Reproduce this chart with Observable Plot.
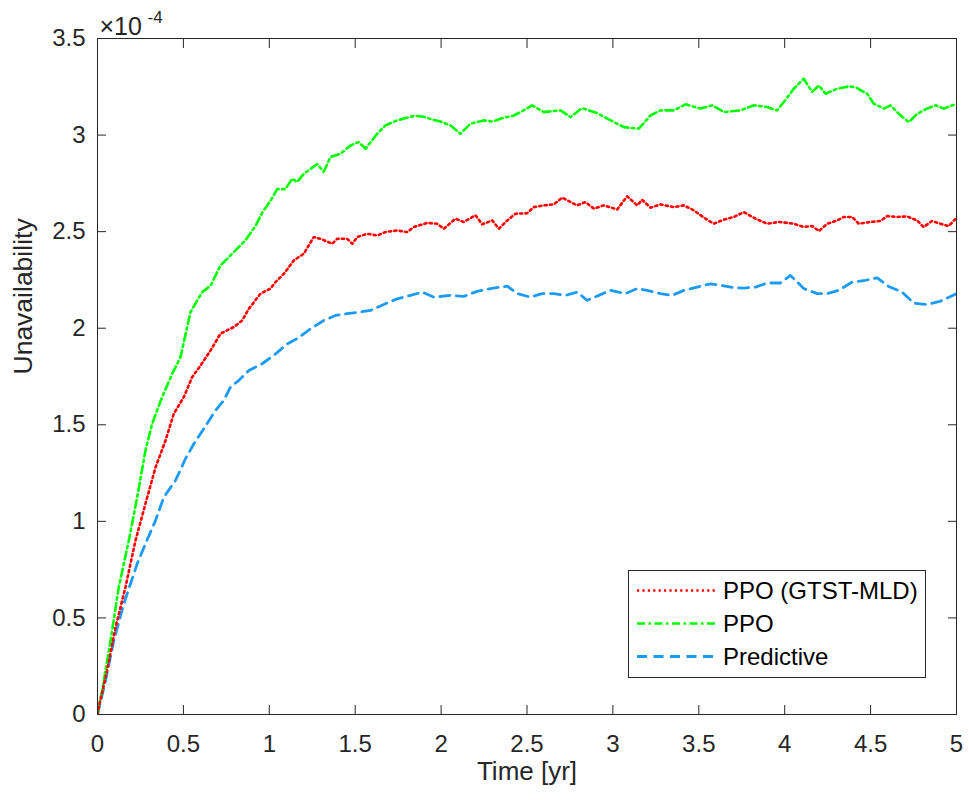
<!DOCTYPE html>
<html>
<head>
<meta charset="utf-8">
<script src="https://cdn.jsdelivr.net/npm/d3@7"></script>
<script src="https://cdn.jsdelivr.net/npm/@observablehq/plot@0.6"></script>
<style>
  body { margin: 0; background: #fff; }
  #wrap { position: relative; width: 969px; height: 800px; font-family: "Liberation Sans", Arial, sans-serif; }
  #legend { position: absolute; left: 628px; top: 570px; }
</style>
</head>
<body>
<div id="wrap"></div>
<script>
// Unavailability values in units of 1e-4
const seriesNames = ["PPO (GTST-MLD)", "PPO", "Predictive"];
const seriesColors = ["#ff0000", "#00ff00", "#1c9bf2"];

const redT = [0,0.008,0.056,0.105,0.163,0.221,0.279,0.338,0.396,0.444,0.502,0.551,0.6,0.658,0.716,0.793,0.842,0.881,0.949,1.007,1.036,1.085,1.143,1.201,1.259,1.298,1.366,1.395,1.453,1.483,1.512,1.57,1.628,1.676,1.744,1.803,1.841,1.919,1.977,2.016,2.084,2.132,2.2,2.239,2.298,2.336,2.385,2.433,2.5,2.54,2.598,2.656,2.705,2.792,2.84,2.889,2.947,3.025,3.083,3.141,3.17,3.219,3.277,3.355,3.413,3.471,3.539,3.587,3.646,3.704,3.762,3.83,3.898,3.966,4.053,4.111,4.16,4.199,4.248,4.305,4.344,4.393,4.431,4.499,4.557,4.596,4.654,4.712,4.771,4.808,4.858,4.916,4.955,5.0];
const redV = [0,0.04,0.228,0.452,0.66,0.9,1.091,1.28,1.419,1.557,1.643,1.747,1.807,1.885,1.972,2.006,2.04,2.101,2.179,2.205,2.239,2.282,2.351,2.386,2.472,2.463,2.437,2.463,2.463,2.437,2.472,2.489,2.48,2.498,2.506,2.498,2.524,2.545,2.541,2.515,2.567,2.55,2.585,2.538,2.558,2.515,2.558,2.593,2.595,2.627,2.636,2.641,2.676,2.636,2.653,2.619,2.636,2.615,2.683,2.636,2.665,2.624,2.641,2.627,2.636,2.61,2.567,2.541,2.562,2.576,2.601,2.567,2.541,2.55,2.541,2.524,2.529,2.503,2.541,2.558,2.576,2.576,2.541,2.55,2.555,2.581,2.576,2.579,2.558,2.524,2.555,2.538,2.529,2.572];

const greenT = [0,0.027,0.076,0.124,0.182,0.231,0.279,0.318,0.376,0.435,0.483,0.541,0.609,0.658,0.716,0.784,0.861,0.92,0.96,1.007,1.046,1.094,1.133,1.162,1.201,1.279,1.317,1.356,1.414,1.473,1.521,1.56,1.628,1.676,1.744,1.8,1.85,1.9,1.95,1.997,2.055,2.113,2.171,2.249,2.3,2.365,2.42,2.462,2.53,2.598,2.695,2.753,2.821,2.908,2.967,3.064,3.151,3.219,3.277,3.355,3.423,3.51,3.578,3.646,3.743,3.82,3.898,3.956,3.995,4.053,4.111,4.16,4.199,4.238,4.305,4.373,4.412,4.48,4.519,4.577,4.616,4.674,4.723,4.771,4.829,4.878,4.926,5.0];
const greenV = [0,0.124,0.383,0.66,0.9,1.125,1.367,1.505,1.643,1.764,1.85,2.083,2.187,2.22,2.325,2.386,2.455,2.53,2.6,2.66,2.72,2.72,2.774,2.757,2.8,2.85,2.81,2.886,2.903,2.946,2.964,2.929,3.007,3.05,3.076,3.09,3.1,3.095,3.08,3.07,3.05,3.007,3.059,3.076,3.07,3.09,3.1,3.119,3.154,3.119,3.128,3.093,3.14,3.114,3.085,3.041,3.033,3.102,3.128,3.128,3.159,3.137,3.154,3.119,3.128,3.154,3.145,3.128,3.171,3.24,3.292,3.223,3.257,3.214,3.24,3.252,3.248,3.214,3.162,3.137,3.154,3.102,3.067,3.11,3.137,3.154,3.137,3.162];

const blueT = [0,0.047,0.095,0.153,0.192,0.231,0.279,0.338,0.386,0.454,0.512,0.561,0.619,0.687,0.735,0.774,0.823,0.881,0.958,1.026,1.104,1.162,1.24,1.317,1.385,1.453,1.521,1.589,1.676,1.744,1.822,1.89,1.958,2.055,2.132,2.21,2.288,2.385,2.443,2.52,2.588,2.656,2.724,2.792,2.85,2.918,2.986,3.073,3.141,3.199,3.277,3.345,3.413,3.491,3.568,3.626,3.704,3.762,3.83,3.898,3.975,4.033,4.063,4.111,4.19,4.248,4.315,4.393,4.47,4.538,4.605,4.684,4.751,4.829,4.907,5.0];
const blueV = [0,0.176,0.383,0.573,0.677,0.78,0.884,1.005,1.125,1.212,1.324,1.402,1.48,1.574,1.626,1.695,1.73,1.781,1.816,1.859,1.919,1.946,1.997,2.04,2.066,2.075,2.083,2.092,2.127,2.152,2.17,2.187,2.161,2.17,2.165,2.191,2.205,2.218,2.179,2.161,2.179,2.179,2.17,2.187,2.144,2.17,2.196,2.179,2.205,2.196,2.179,2.17,2.196,2.213,2.23,2.222,2.21,2.208,2.213,2.234,2.234,2.273,2.248,2.205,2.179,2.179,2.196,2.239,2.248,2.261,2.216,2.187,2.13,2.123,2.14,2.179];

const xTicks = [0,0.5,1,1.5,2,2.5,3,3.5,4,4.5,5];
const yTicks = [0,0.5,1,1.5,2,2.5,3,3.5];
const xLabel = "Time [yr]";
const yLabel = "Unavailability";
const exponentBase = "×10";
const exponentPower = "-4";

const toRows = (T, V) => T.map((t, i) => ({t, v: V[i]}));
const red = toRows(redT, redV);
const green = toRows(greenT, greenV);
const blue = toRows(blueT, blueV);

const ink = "#262626";
const dashes = ["2.2,3.2", "8,3.5,2.5,3.5", "10,6.5"];
const widths = [2.6, 2.6, 2.8];

const chart = Plot.plot({
  width: 969,
  height: 800,
  marginLeft: 97,
  marginRight: 13,
  marginTop: 38,
  marginBottom: 86,
  x: {domain: [0, 5], label: null},
  y: {domain: [0, 3.5], label: null},
  style: {fontFamily: '"Liberation Sans", Arial, sans-serif', fontSize: "24px", color: ink, background: "white", overflow: "visible"},
  marks: [
    Plot.line(blue, {x: "t", y: "v", stroke: seriesColors[2], strokeWidth: widths[2], strokeDasharray: dashes[2], clip: true}),
    Plot.line(green, {x: "t", y: "v", stroke: seriesColors[1], strokeWidth: widths[1], strokeDasharray: dashes[1], clip: true}),
    Plot.line(red, {x: "t", y: "v", stroke: seriesColors[0], strokeWidth: widths[0], strokeDasharray: dashes[0], clip: true}),
    Plot.frame({stroke: ink, strokeWidth: 1}),
    Plot.axisX(xTicks, {anchor: "bottom", tickSize: -9, tickFormat: () => "", stroke: ink}),
    Plot.axisX(xTicks, {anchor: "top", tickSize: -9, tickFormat: () => "", stroke: ink}),
    Plot.axisY(yTicks, {anchor: "left", tickSize: -9, tickFormat: () => "", stroke: ink}),
    Plot.axisY(yTicks, {anchor: "right", tickSize: -9, tickFormat: () => "", stroke: ink}),
    Plot.axisX(xTicks, {anchor: "bottom", tickSize: 0, tickPadding: 20, tickFormat: d => String(d), fill: ink, fontSize: "24px"}),
    Plot.axisY(yTicks, {anchor: "left", tickSize: 0, tickPadding: 12, tickFormat: d => String(d), fill: ink, fontSize: "24px"}),
    Plot.text([xLabel], {text: d => d, frameAnchor: "bottom", dy: 65, fill: ink, fontSize: "26px"}),
    Plot.text([yLabel], {text: d => d, frameAnchor: "left", dx: -74, dy: -2, rotate: -90, fill: ink, fontSize: "26.5px"}),
    Plot.text([exponentBase], {text: d => d, frameAnchor: "top-left", textAnchor: "start", lineAnchor: "bottom", dx: 2, dy: -4, fill: ink, fontSize: "25px"}),
    Plot.text([exponentPower], {text: d => d, frameAnchor: "top-left", textAnchor: "start", lineAnchor: "bottom", dx: 50, dy: -16, fill: ink, fontSize: "17px"})
  ]
});

const wrap = document.getElementById("wrap");
wrap.appendChild(chart);

// Legend overlay
const ns = "http://www.w3.org/2000/svg";
const lg = document.createElementNS(ns, "svg");
lg.setAttribute("id", "legend");
lg.setAttribute("width", 299);
lg.setAttribute("height", 109);
const rect = document.createElementNS(ns, "rect");
rect.setAttribute("x", 0.5); rect.setAttribute("y", 0.5);
rect.setAttribute("width", 297); rect.setAttribute("height", 107);
rect.setAttribute("fill", "white"); rect.setAttribute("stroke", ink);
lg.appendChild(rect);
const rowY = [20.5, 53.5, 86.5];
seriesNames.forEach((name, i) => {
  const ln = document.createElementNS(ns, "line");
  ln.setAttribute("x1", 9); ln.setAttribute("x2", 89);
  ln.setAttribute("y1", rowY[i]); ln.setAttribute("y2", rowY[i]);
  ln.setAttribute("stroke", seriesColors[i]);
  ln.setAttribute("stroke-width", widths[i]);
  ln.setAttribute("stroke-dasharray", dashes[i]);
  lg.appendChild(ln);
  const tx = document.createElementNS(ns, "text");
  tx.setAttribute("x", 95); tx.setAttribute("y", rowY[i]);
  tx.setAttribute("dy", "0.35em");
  tx.setAttribute("fill", "#000");
  tx.setAttribute("font-size", 24);
  tx.setAttribute("font-family", '"Liberation Sans", Arial, sans-serif');
  tx.textContent = name;
  lg.appendChild(tx);
});
wrap.appendChild(lg);
</script>
</body>
</html>
